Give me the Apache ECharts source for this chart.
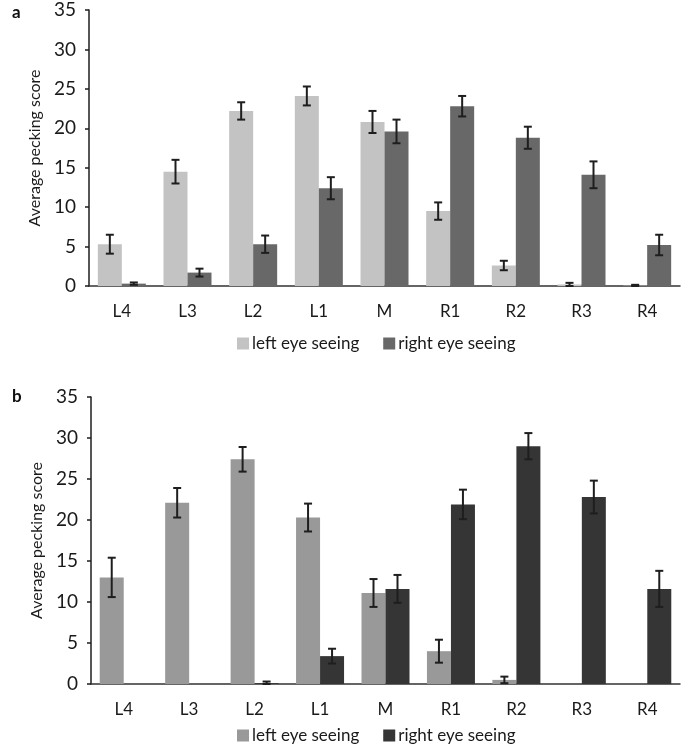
<!DOCTYPE html>
<html>
<head>
<meta charset="utf-8">
<script src="https://cdn.jsdelivr.net/npm/echarts@6/dist/echarts.min.js"></script>
<style>
  html, body { margin: 0; padding: 0; background: #fff; }
  #chart { width: 685px; height: 748px; }
</style>
</head>
<body>
<div id="chart"></div>
<script>
// 数据
const categories = ['L4', 'L3', 'L2', 'L1', 'M', 'R1', 'R2', 'R3', 'R4'];
const legendNames = ['left eye seeing', 'right eye seeing'];
const yTicks = [0, 5, 10, 15, 20, 25, 30, 35];

// panel a
const aLeft = [5.3, 14.5, 22.2, 24.1, 20.8, 9.5, 2.6, 0.2, 0.05];
const aLeftErr = [1.2, 1.5, 1.1, 1.2, 1.4, 1.1, 0.6, 0.2, 0.1];
const aRight = [0.3, 1.7, 5.3, 12.4, 19.6, 22.8, 18.8, 14.1, 5.2];
const aRightErr = [0.15, 0.5, 1.1, 1.4, 1.5, 1.3, 1.4, 1.7, 1.3];

// panel b
const bLeft = [13.0, 22.1, 27.4, 20.3, 11.1, 4.0, 0.5, 0, 0];
const bLeftErr = [2.4, 1.8, 1.5, 1.7, 1.7, 1.4, 0.4, 0, 0];
const bRight = [0, 0, 0.1, 3.4, 11.6, 21.9, 29.0, 22.8, 11.6];
const bRightErr = [0, 0, 0.2, 0.9, 1.7, 1.8, 1.6, 2.0, 2.2];

const FONT = 'Lato';
const BAR_W = 24;

let chart = echarts.init(document.getElementById('chart'));

// 误差线
function errorSeries(vals, errs, offset, axisIdx) {
  return {
    type: 'custom',
    xAxisIndex: axisIdx,
    yAxisIndex: axisIdx,
    z: 5,
    silent: true,
    data: vals.map((v, i) => [i, v, errs[i]]),
    renderItem: function (params, api) {
      let err = api.value(2);
      if (!err) return null;
      let v = api.value(1);
      let x = api.coord([api.value(0), v])[0] + offset;
      let top = api.coord([api.value(0), v + err])[1];
      let bot = api.coord([api.value(0), Math.max(0, v - err)])[1];
      let style = { stroke: '#1e1e1e', lineWidth: 2 };
      return {
        type: 'group',
        children: [
          { type: 'line', shape: { x1: x, y1: top, x2: x, y2: bot }, style: style },
          { type: 'line', shape: { x1: x - 4, y1: top, x2: x + 4, y2: top }, style: style },
          { type: 'line', shape: { x1: x - 4, y1: bot, x2: x + 4, y2: bot }, style: style }
        ]
      };
    }
  };
}

function xAxisCfg(idx) {
  return {
    type: 'category',
    gridIndex: idx,
    data: categories,
    axisLine: { lineStyle: { color: '#333', width: 1.5 } },
    axisTick: { show: false },
    axisLabel: { color: '#1a1a1a', fontSize: 17, fontFamily: FONT, margin: 17 }
  };
}

function yAxisCfg(idx) {
  return {
    type: 'value',
    gridIndex: idx,
    min: yTicks[0],
    max: yTicks[yTicks.length - 1],
    interval: 5,
    name: 'Average pecking score',
    nameLocation: 'middle',
    nameGap: 44,
    nameTextStyle: { color: '#1a1a1a', fontSize: 16, fontFamily: FONT },
    axisLine: { show: true, lineStyle: { color: '#1e1e1e', width: 1.5 } },
    axisTick: { show: true, length: 4, lineStyle: { color: '#1e1e1e', width: 1.5 } },
    axisLabel: { color: '#1a1a1a', fontSize: 19, fontFamily: FONT, margin: 13 },
    splitLine: { show: false }
  };
}

function legendCfg(top, c1, c2) {
  return {
    left: 232,
    top: top,
    itemWidth: 12,
    itemHeight: 12,
    itemGap: 24,
    icon: 'rect',
    textStyle: { color: '#1a1a1a', fontSize: 17, fontFamily: FONT, padding: [0, 0, 0, -2] },
    data: [
      { name: legendNames[0], itemStyle: { color: c1 } },
      { name: legendNames[1], itemStyle: { color: c2 } }
    ],
    selectedMode: false
  };
}

function barSeries(name, vals, color, axisIdx) {
  return {
    name: name,
    type: 'bar',
    xAxisIndex: axisIdx,
    yAxisIndex: axisIdx,
    data: vals,
    barWidth: BAR_W,
    barGap: '0%',
    itemStyle: { color: color }
  };
}

chart.setOption({
  animation: false,
  title: [
    { text: 'a', left: 7, top: -1, textStyle: { fontSize: 17, fontWeight: 'bold', fontFamily: FONT, color: '#111' } },
    { text: 'b', left: 7, top: 383, textStyle: { fontSize: 17, fontWeight: 'bold', fontFamily: FONT, color: '#111' } }
  ],
  grid: [
    { left: 89, right: 5, top: 10, height: 276 },
    { left: 91, right: 5, top: 397, height: 287 }
  ],
  legend: [
    legendCfg(330, '#c3c3c3', '#686868'),
    legendCfg(722, '#999999', '#353535')
  ],
  xAxis: [xAxisCfg(0), xAxisCfg(1)],
  yAxis: [yAxisCfg(0), yAxisCfg(1)],
  series: [
    barSeries(legendNames[0], aLeft, '#c3c3c3', 0),
    barSeries(legendNames[1], aRight, '#686868', 0),
    errorSeries(aLeft, aLeftErr, -BAR_W / 2, 0),
    errorSeries(aRight, aRightErr, BAR_W / 2, 0),
    barSeries(legendNames[0], bLeft, '#999999', 1),
    barSeries(legendNames[1], bRight, '#353535', 1),
    errorSeries(bLeft, bLeftErr, -BAR_W / 2, 1),
    errorSeries(bRight, bRightErr, BAR_W / 2, 1)
  ]
});
</script>
</body>
</html>
